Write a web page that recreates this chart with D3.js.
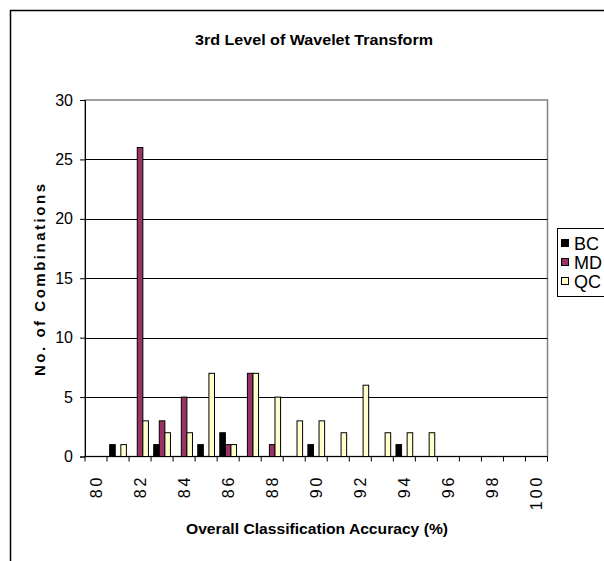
<!DOCTYPE html>
<html>
<head>
<meta charset="utf-8">
<script src="https://cdn.jsdelivr.net/npm/d3@7"></script>
<style>
  body { margin: 0; background: #fff; }
  text { font-family: "Liberation Sans", Arial, sans-serif; }
</style>
</head>
<body>
<script>

// accuracy bins 80..100
var categories = d3.range(80, 101);
var seriesNames = ["BC", "MD", "QC"];
var bcValues = [0,1,0,1,0,1,2,0,0,0,1,0,0,0,1,0,0,0,0,0,0];
var mdValues = [0,0,26,3,5,0,1,7,1,0,0,0,0,0,0,0,0,0,0,0,0];
var qcValues = [0,1,3,2,2,7,1,7,5,3,3,2,6,2,2,2,0,0,0,0,0];
var yTicks = [0, 5, 10, 15, 20, 25, 30];
var xLabels = ["80","82","84","86","88","90","92","94","96","98","100"];
var colors = {BC: "#000000", MD: "#993366", QC: "#FFFFCC"};

var values = {BC: bcValues, MD: mdValues, QC: qcValues};

var width = 604, height = 561;
var plot = {left: 85, right: 547.5, top: 100, bottom: 456.5};

var svg = d3.select("body")
.append("svg")
.attr("width", width)
.attr("height", height);

// chart area border (runs off the picture on right and bottom)
svg.append("rect")
.attr("x", 10.5)
.attr("y", 10.5)
.attr("width", 700)
.attr("height", 700)
.attr("fill", "#fff")
.attr("stroke", "#000")
.attr("stroke-width", 1.5);

var x0 = d3.scaleBand()
.domain(categories)
.range([plot.left, plot.right])
.padding(0);

var x1 = d3.scaleBand()
.domain(seriesNames)
.range([x0.bandwidth() * 0.12, x0.bandwidth() * 0.88]);

var y = d3.scaleLinear()
.domain([0, 30])
.range([plot.bottom, plot.top]);

// plot area border
svg.append("rect")
.attr("x", plot.left)
.attr("y", plot.top)
.attr("width", plot.right - plot.left)
.attr("height", plot.bottom - plot.top)
.attr("fill", "none")
.attr("stroke", "#808080")
.attr("stroke-width", 1.5);

// gridlines
svg.selectAll(".grid")
.data(yTicks.filter(d => d > 0 && d < 30))
.enter()
.append("line")
.attr("x1", plot.left)
.attr("x2", plot.right)
.attr("y1", d => Math.round(y(d)) + 0.5)
.attr("y2", d => Math.round(y(d)) + 0.5)
.attr("stroke", "#000");

// bars
var groups = svg.selectAll(".cat")
.data(categories)
.enter()
.append("g")
.attr("transform", d => `translate(${x0(d)},0)`);

groups.selectAll("rect")
.data((d, i) => seriesNames.map(s => ({s: s, v: values[s][i]})))
.enter()
.filter(d => d.v > 0)
.append("rect")
.attr("x", d => x1(d.s))
.attr("y", d => y(d.v))
.attr("width", x1.bandwidth())
.attr("height", d => y(0) - y(d.v))
.attr("fill", d => colors[d.s])
.attr("stroke", "#000")
.attr("stroke-width", 1);

// y axis
var yAxis = d3.axisLeft(y).tickValues(yTicks).tickSize(5).tickPadding(7);
var gy = svg.append("g")
.attr("transform", `translate(${plot.left},0)`)
.call(yAxis);
gy.select(".domain").attr("stroke", "#000");
gy.selectAll("text")
.attr("font-size", 16)
.attr("font-family", "Liberation Sans, Arial, sans-serif")
.attr("fill", "#000");

// x axis: ticks at band edges
var xAxisLine = svg.append("g");
xAxisLine.append("line")
.attr("x1", plot.left)
.attr("x2", plot.right)
.attr("y1", plot.bottom)
.attr("y2", plot.bottom)
.attr("stroke", "#000");

var edges = categories.map(c => x0(c)).concat([plot.right]);
xAxisLine.selectAll(".xtick")
.data(edges)
.enter()
.append("line")
.attr("x1", d => d)
.attr("x2", d => d)
.attr("y1", plot.bottom)
.attr("y2", plot.bottom + 5)
.attr("stroke", "#000");

xAxisLine.selectAll(".xlab")
.data(xLabels)
.enter()
.append("text")
.attr("transform", d => `translate(${x0(+d) + x0.bandwidth() / 2 + 6},${plot.bottom + 18}) rotate(-90)`)
.attr("text-anchor", "end")
.attr("font-size", 16)
.attr("letter-spacing", 3)
.text(d => d);

// titles
svg.append("text")
.attr("x", 314)
.attr("y", 45)
.attr("text-anchor", "middle")
.attr("font-size", 14)
.attr("font-weight", "bold")
.attr("textLength", 238)
.attr("lengthAdjust", "spacingAndGlyphs")
.text("3rd Level of Wavelet Transform");

svg.append("text")
.attr("x", 317)
.attr("y", 534)
.attr("text-anchor", "middle")
.attr("font-size", 15)
.attr("font-weight", "bold")
.attr("textLength", 262)
.attr("lengthAdjust", "spacingAndGlyphs")
.text("Overall Classification Accuracy (%)");

svg.append("text")
.attr("transform", "translate(45,280) rotate(-90)")
.attr("text-anchor", "middle")
.attr("font-size", 15)
.attr("font-weight", "bold")
.attr("textLength", 192)
.attr("lengthAdjust", "spacing")
.text("No. of Combinations");

// legend
var legend = svg.append("g").attr("transform", "translate(557,228)");
legend.append("rect")
.attr("x", 0.5)
.attr("y", 0.5)
.attr("width", 80)
.attr("height", 68)
.attr("fill", "#fff")
.attr("stroke", "#000");

var items = legend.selectAll(".item")
.data(seriesNames)
.enter()
.append("g")
.attr("transform", (d, i) => `translate(0,${16 + i * 19})`);

items.append("rect")
.attr("x", 4.5)
.attr("y", -4.5)
.attr("width", 7)
.attr("height", 7)
.attr("fill", d => colors[d])
.attr("stroke", "#000");

items.append("text")
.attr("x", 17)
.attr("y", 6)
.attr("font-size", 18)
.text(d => d);

</script>
</body>
</html>
